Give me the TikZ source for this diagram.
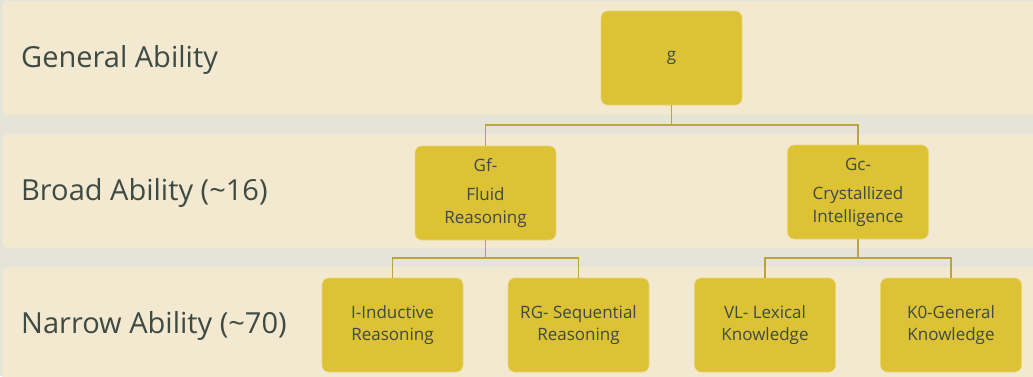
\documentclass[tikz,border=0pt]{standalone}
\usepackage{fontspec}
\setmainfont{Open Sans}
\definecolor{gapbg}{RGB}{229,228,216}
\definecolor{band}{RGB}{242,233,208}
\definecolor{boxfill}{RGB}{220,194,52}
\definecolor{boxedge}{RGB}{232,214,110}
\definecolor{wire}{RGB}{188,164,58}
\definecolor{ink}{RGB}{62,74,68}
\tikzset{
  levelband/.style={fill=band, rounded corners=6pt},
  levellabel/.style={anchor=west, text=ink, font=\fontsize{29}{34}\selectfont, inner sep=0pt},
  ability/.style={draw=boxedge, line width=0.6pt, fill=boxfill, rounded corners=7pt,
    minimum width=141pt, minimum height=94pt, text=ink, align=center,
    font=\fontsize{17}{22.5}\selectfont, inner sep=2pt},
  link/.style={draw=wire, line width=1.2pt}
}
\begin{document}
\begin{tikzpicture}[x=1pt,y=-1pt]
\useasboundingbox (0,0) rectangle (1033,376);
\fill[gapbg] (0,0) rectangle (1033,376);
% level bands
\path[levelband] (2,1) rectangle (1045,115);
\path[levelband] (2,134) rectangle (1045,248);
\path[levelband] (2,267) rectangle (1045,390);
\node[levellabel] (lg) at (21,59.5) {General Ability};
\node[levellabel] (lb) at (21,192.5) {Broad Ability (\textasciitilde16)};
\node[levellabel] (ln) at (21,325.5) {Narrow Ability (\textasciitilde70)};
% ability boxes
\node[ability] (g) at (671.5,58) {g};
\node[ability] (gf) at (485.5,193) {Gf-\\[7pt]Fluid\\Reasoning};
\node[ability] (gc) at (858,192) {Gc-\\[7pt]Crystallized\\Intelligence};
\node[ability] (ii) at (392.5,325) {I-Inductive\\Reasoning};
\node[ability] (rg) at (578.5,325) {RG- Sequential\\Reasoning};
\node[ability] (vl) at (765,325) {VL- Lexical\\Knowledge};
\node[ability] (ko) at (951,325) {K0-General\\Knowledge};
% connectors
\coordinate (jg) at (671.5,125);
\coordinate (jf) at (485.5,258);
\coordinate (jc) at (858,258);
\draw[link] (g.south) -- (jg);
\draw[link] (gf.north) |- (jg) -| (gc.north);
\draw[link] (gf.south) -- (jf);
\draw[link] (ii.north) |- (jf) -| (rg.north);
\draw[link] (gc.south) -- (jc);
\draw[link] (vl.north) |- (jc) -| (ko.north);
\end{tikzpicture}
\end{document}
